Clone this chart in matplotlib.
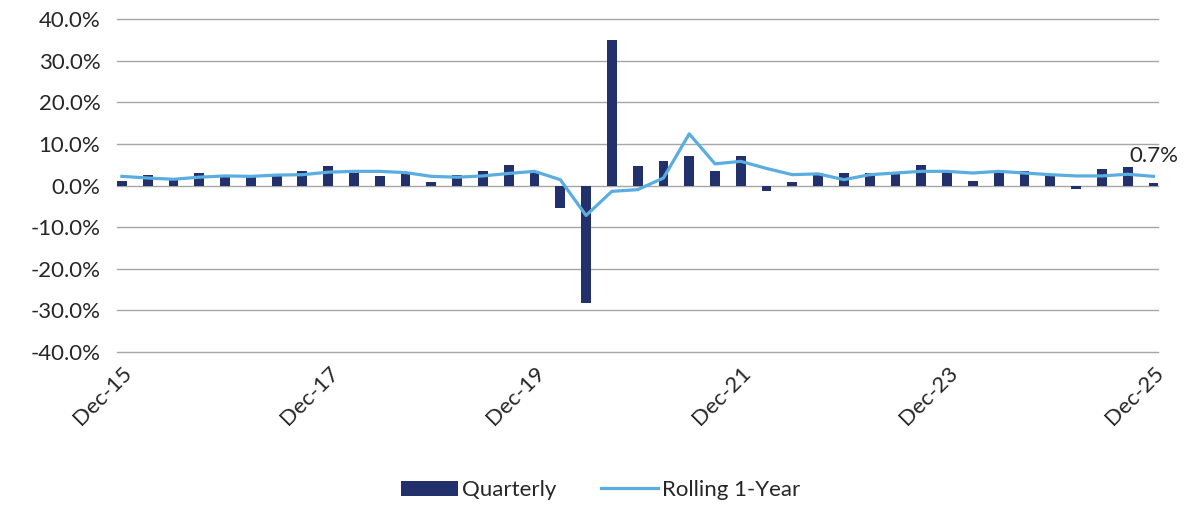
import numpy as np
import pandas as pd
import matplotlib
matplotlib.use("Agg")
import matplotlib.pyplot as plt
from matplotlib.ticker import FuncFormatter

plt.rcParams['font.family'] = ['Lato', 'DejaVu Sans']

# quarter ends, Dec-15 .. Dec-25
quarters = pd.date_range('2015-12-31', periods=41, freq='QE')

# quarterly return, %
quarterly = [1.0, 2.6, 1.4, 3.0, 2.2, 2.0, 2.2, 3.4, 4.8, 3.0,
             2.4, 2.8, 0.8, 2.6, 3.5, 4.9, 3.2, -5.4, -28.2, 35.0,
             4.7, 5.8, 7.1, 3.5, 7.2, -1.2, 0.8, 3.0, 3.0, 3.0,
             2.8, 4.9, 3.5, 1.0, 3.8, 3.5, 2.4, -0.8, 3.9, 4.5,
             0.7]

# rolling 1-year, %
rolling = [2.2, 1.8, 1.5, 2.0, 2.3, 2.2, 2.5, 2.6, 3.2, 3.4,
           3.4, 3.1, 2.2, 2.0, 2.3, 2.9, 3.4, 1.4, -7.2, -1.4,
           -1.0, 1.8, 12.4, 5.2, 5.8, 4.1, 2.6, 2.8, 1.4, 2.6,
           3.0, 3.4, 3.4, 3.0, 3.4, 3.0, 2.6, 2.3, 2.3, 2.7,
           2.2]

tick_labels = ['Dec-15', 'Dec-17', 'Dec-19', 'Dec-21', 'Dec-23', 'Dec-25']

bar_col = '#22306b'
line_col = '#5aade0'
txt_col = '#262626'
fs = 16

fig = plt.figure(figsize=(11.84, 5.09), dpi=100)
ax = fig.add_axes([0.0988, 0.3084, 0.8795, 0.6543])

x = np.arange(len(quarters))
w = 0.38
bars = ax.bar(x, quarterly, width=w, color=bar_col, zorder=2)
line, = ax.plot(x, rolling, color=line_col, lw=2.3, zorder=3)

ax.set_xlim(-w / 2, len(x) - 1 + w / 2)
ax.set_ylim(-40, 40)
ax.set_yticks(np.arange(-40, 41, 10))
ax.yaxis.set_major_formatter(FuncFormatter(lambda v, p: f'{v:.1f}%'))
ax.grid(axis='y', color='#a6a6a6', lw=1, zorder=0)
for g in ax.get_ygridlines():
    g.set_clip_on(False)
ax.set_axisbelow(True)

tick_pos = [i for i, d in enumerate(quarters) if d.month == 12 and d.year % 2 == 1]
ax.set_xticks(tick_pos)
ax.set_xticklabels(tick_labels, rotation=45, ha='right', rotation_mode='anchor')

ax.tick_params(axis='both', length=0, labelsize=fs, labelcolor=txt_col)
ax.tick_params(axis='y', pad=12)
ax.tick_params(axis='x', pad=8)
for s in ax.spines.values():
    s.set_visible(False)

ax.annotate(f'{quarterly[-1]:.1f}%', xy=(x[-1], quarterly[-1]), xytext=(0, 12),
            textcoords='offset points', ha='center', va='bottom',
            fontsize=fs, color=txt_col)

fig.legend([bars, line], ['Quarterly', 'Rolling 1-Year'], loc='center',
           bbox_to_anchor=(0.507, 0.037), ncol=2, frameon=False,
           fontsize=fs, handlelength=2.6, handletextpad=0.15, columnspacing=2.0,
           labelcolor=txt_col)

fig.savefig('out.png', dpi=100)
